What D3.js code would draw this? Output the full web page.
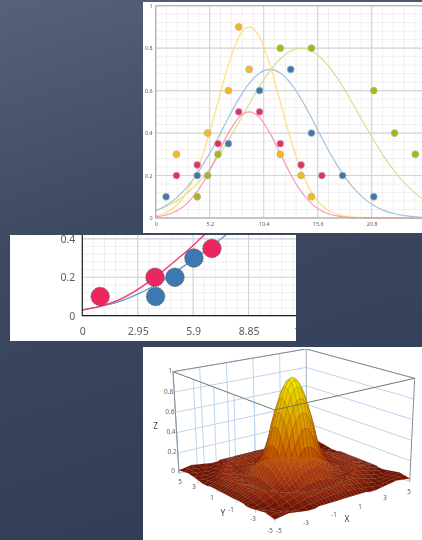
<!DOCTYPE html>
<html>
<head>
<meta charset="utf-8">
<script src="https://cdn.jsdelivr.net/npm/d3@7"></script>
<style>
html, body { margin: 0; padding: 0; overflow: hidden; }
body { width: 422px; height: 540px; }
svg { display: block; }
text { font-family: "Noto Sans", sans-serif; }
.axis path, .axis line { display: none; }
</style>
</head>
<body>
<div class="svg"></div>
<script>
'use strict';

// top chart
var xTicks1 = [0, 5.2, 10.4, 15.6, 20.8, 26];
var yTicks1 = [0, 0.2, 0.4, 0.6, 0.8, 1];
var curveX1 = [0, 1, 2, 3, 4, 5, 6, 7, 8, 9, 10, 11, 12, 13, 14, 15, 16, 17, 18, 19, 20, 21, 22, 23, 24, 25, 26, 27];
var yellowCurve = [0.01, 0.026, 0.059, 0.122, 0.224, 0.37, 0.546, 0.721, 0.851, 0.9, 0.851, 0.721, 0.546, 0.37, 0.224, 0.122, 0.059, 0.026, 0.01, 0.004, 0.001, 0, 0, 0, 0, 0, 0, 0];
var redCurve = [0.006, 0.014, 0.033, 0.068, 0.125, 0.205, 0.303, 0.4, 0.473, 0.5, 0.473, 0.4, 0.303, 0.205, 0.125, 0.068, 0.033, 0.014, 0.006, 0.002, 0.001, 0, 0, 0, 0, 0, 0, 0];
var blueCurve = [0.035, 0.059, 0.095, 0.144, 0.209, 0.288, 0.377, 0.472, 0.561, 0.634, 0.683, 0.7, 0.683, 0.634, 0.561, 0.472, 0.377, 0.288, 0.209, 0.144, 0.095, 0.059, 0.035, 0.02, 0.011, 0.006, 0.003, 0.001];
var greenCurve = [0.035, 0.054, 0.08, 0.116, 0.162, 0.22, 0.288, 0.366, 0.45, 0.537, 0.62, 0.693, 0.75, 0.787, 0.8, 0.787, 0.75, 0.693, 0.62, 0.537, 0.45, 0.366, 0.288, 0.22, 0.162, 0.116, 0.08, 0.054];
var yellowDots = [[8, 0.9], [9, 0.7], [7, 0.6], [5, 0.4], [2, 0.3], [12, 0.3], [14, 0.2], [15, 0.1]];
var redDots = [[2, 0.2], [4, 0.25], [6, 0.35], [8, 0.5], [10, 0.5], [12, 0.35], [14, 0.25], [16, 0.2]];
var blueDots = [[1, 0.1], [4, 0.2], [7, 0.35], [10, 0.6], [13, 0.7], [15, 0.4], [18, 0.2], [21, 0.1]];
var greenDots = [[4, 0.1], [5, 0.2], [6, 0.3], [12, 0.8], [15, 0.8], [21, 0.6], [23, 0.4], [25, 0.3]];

// middle chart
var xTicks2 = [0, 2.95, 5.9, 8.85, 11.8];
var yTicks2 = [0, 0.2, 0.4];
var curveX2 = [0, 1, 2, 3, 4, 5, 6, 7, 8];
var pinkCurve2 = [0.03, 0.05, 0.085, 0.14, 0.21, 0.29, 0.375, 0.47, 0.57];
var blueCurve2 = [0.03, 0.05, 0.075, 0.115, 0.165, 0.23, 0.3, 0.37, 0.45];
var redDots2 = [[0.95, 0.1], [3.87, 0.2], [6.9, 0.35]];
var blueDots2 = [[3.9, 0.1], [4.93, 0.2], [5.94, 0.3]];

// surface, read at these x and y (the picture is mirrored about both axes)
var zTicks = [0, 0.2, 0.4, 0.6, 0.8, 1];
var xyTicks = [-5, -3, -1, 1, 3, 5];
var meshSteps = [0, 0.25, 0.5, 0.75, 1, 1.25, 1.5, 1.75, 2, 2.5, 3, 3.5, 4, 4.5, 5];
var zQuadrant = [
    [1, 0.98, 0.92, 0.82, 0.69, 0.55, 0.38, 0.27, 0.2, 0.1, 0.06, 0.08, 0.09, 0.06, 0.03],
    [0.98, 0.96, 0.9, 0.8, 0.67, 0.54, 0.37, 0.26, 0.2, 0.1, 0.06, 0.08, 0.09, 0.06, 0.03],
    [0.92, 0.9, 0.84, 0.74, 0.62, 0.47, 0.34, 0.25, 0.19, 0.095, 0.06, 0.08, 0.09, 0.06, 0.03],
    [0.82, 0.8, 0.74, 0.66, 0.55, 0.4, 0.29, 0.22, 0.17, 0.09, 0.06, 0.085, 0.085, 0.06, 0.03],
    [0.69, 0.67, 0.62, 0.55, 0.43, 0.33, 0.25, 0.2, 0.15, 0.085, 0.06, 0.085, 0.08, 0.055, 0.03],
    [0.55, 0.54, 0.47, 0.4, 0.33, 0.26, 0.21, 0.17, 0.12, 0.07, 0.065, 0.09, 0.08, 0.05, 0.03],
    [0.38, 0.37, 0.34, 0.29, 0.25, 0.21, 0.17, 0.14, 0.1, 0.065, 0.07, 0.09, 0.07, 0.05, 0.03],
    [0.27, 0.26, 0.25, 0.22, 0.2, 0.17, 0.14, 0.1, 0.09, 0.06, 0.08, 0.09, 0.07, 0.04, 0.03],
    [0.2, 0.2, 0.19, 0.17, 0.15, 0.12, 0.1, 0.09, 0.07, 0.06, 0.085, 0.09, 0.06, 0.04, 0.02],
    [0.1, 0.1, 0.095, 0.09, 0.085, 0.07, 0.065, 0.06, 0.06, 0.08, 0.09, 0.07, 0.05, 0.03, 0.02],
    [0.06, 0.06, 0.06, 0.06, 0.06, 0.065, 0.07, 0.08, 0.085, 0.09, 0.07, 0.05, 0.03, 0.02, 0.03],
    [0.08, 0.08, 0.08, 0.085, 0.085, 0.09, 0.09, 0.09, 0.09, 0.07, 0.05, 0.03, 0.02, 0.03, 0.04],
    [0.09, 0.09, 0.09, 0.085, 0.08, 0.08, 0.07, 0.07, 0.06, 0.05, 0.03, 0.02, 0.03, 0.04, 0.05],
    [0.06, 0.06, 0.06, 0.06, 0.055, 0.05, 0.05, 0.04, 0.04, 0.03, 0.02, 0.03, 0.04, 0.05, 0.04],
    [0.03, 0.03, 0.03, 0.03, 0.03, 0.03, 0.03, 0.03, 0.02, 0.02, 0.03, 0.04, 0.05, 0.04, 0.03]
];

var svg = d3.select('div.svg').append('svg')
    .attr('width', 422)
    .attr('height', 540);

var defs = svg.append('defs');
var bg = defs.append('linearGradient').attr('id', 'bg')
    .attr('x1', 0).attr('y1', 0).attr('x2', 0.25).attr('y2', 1);
bg.append('stop').attr('offset', 0).attr('stop-color', '#56627a');
bg.append('stop').attr('offset', 0.45).attr('stop-color', '#3d4861');
bg.append('stop').attr('offset', 1).attr('stop-color', '#323d57');

defs.append('filter').attr('id', 'soft')
    .attr('x', 0).attr('y', 0).attr('width', 1).attr('height', 1)
    .append('feGaussianBlur').attr('stdDeviation', 0.5);

svg.append('rect').attr('width', 422).attr('height', 540).attr('fill', 'url(#bg)');

function drawChart(opt) {
    var panelId = opt.id;
    defs.append('clipPath').attr('id', panelId)
        .append('rect')
        .attr('x', opt.panel[0]).attr('y', opt.panel[1])
        .attr('width', opt.panel[2]).attr('height', opt.panel[3]);

    svg.append('rect')
        .attr('x', opt.panel[0]).attr('y', opt.panel[1])
        .attr('width', opt.panel[2]).attr('height', opt.panel[3])
        .attr('fill', '#fff');

    var g = svg.append('g')
        .attr('clip-path', 'url(#' + panelId + ')')
        .append('g')
        .attr('filter', 'url(#soft)');

    var x = d3.scaleLinear().domain(opt.xDomain).range(opt.xRange);
    var y = d3.scaleLinear().domain(opt.yDomain).range(opt.yRange);

    g.append('g').selectAll('line')
        .data(d3.range(0, opt.xDomain[1], opt.xMinor))
        .enter().append('line')
        .attr('x1', x).attr('x2', x)
        .attr('y1', opt.yRange[0]).attr('y2', opt.yRange[1])
        .attr('stroke', '#ececec').attr('stroke-width', 0.8);
    g.append('g').selectAll('line')
        .data(d3.range(0, opt.yDomain[1], opt.yMinor))
        .enter().append('line')
        .attr('y1', y).attr('y2', y)
        .attr('x1', opt.xRange[0]).attr('x2', opt.xRange[1])
        .attr('stroke', '#ececec').attr('stroke-width', 0.8);
    g.append('g').selectAll('line')
        .data(opt.xTicks)
        .enter().append('line')
        .attr('x1', x).attr('x2', x)
        .attr('y1', opt.yRange[0]).attr('y2', opt.yRange[1])
        .attr('stroke', '#d4d4d4').attr('stroke-width', 1.1);
    g.append('g').selectAll('line')
        .data(opt.yTicks)
        .enter().append('line')
        .attr('y1', y).attr('y2', y)
        .attr('x1', opt.xRange[0]).attr('x2', opt.xRange[1])
        .attr('stroke', '#d4d4d4').attr('stroke-width', 1.1);

    var line = d3.line()
        .x(function (d) { return x(d[0]); })
        .y(function (d) { return y(d[1]); })
        .curve(d3.curveMonotoneX);

    opt.curves.forEach(function (c) {
        g.append('path')
            .attr('d', line(d3.zip(opt.curveX, c.values)))
            .attr('fill', 'none')
            .attr('stroke', c.color)
            .attr('stroke-width', opt.curveWidth);
    });

    // axis frame
    g.append('path')
        .attr('d', 'M' + opt.xRange[0] + ',' + opt.yRange[1] + 'V' + opt.yRange[0] + 'H' + opt.xRange[1])
        .attr('fill', 'none')
        .attr('stroke', opt.axisColor)
        .attr('stroke-width', opt.axisWidth);
    if (opt.topLine) {
        g.append('path')
            .attr('d', 'M' + opt.xRange[0] + ',' + opt.yRange[1] + 'H' + opt.xRange[1])
            .attr('stroke', opt.axisColor)
            .attr('stroke-width', opt.axisWidth);
    }

    opt.dots.forEach(function (set) {
        g.append('g').selectAll('circle')
            .data(set.values)
            .enter().append('circle')
            .attr('cx', function (d) { return x(d[0]); })
            .attr('cy', function (d) { return y(d[1]); })
            .attr('r', opt.dotRadius)
            .attr('fill', set.color)
            .attr('stroke', opt.dotStroke)
            .attr('stroke-width', opt.dotStrokeWidth)
            .attr('stroke-dasharray', opt.dotDash);
    });

    var xAxis = d3.axisBottom(x).tickValues(opt.xTicks).tickSize(0).tickPadding(opt.xPad)
        .tickFormat(function (d) { return d; });
    var yAxis = d3.axisLeft(y).tickValues(opt.yTicks).tickSize(0).tickPadding(opt.yPad)
        .tickFormat(function (d) { return d; });

    g.append('g').attr('class', 'axis')
        .attr('transform', 'translate(0,' + opt.yRange[0] + ')')
        .call(xAxis)
        .selectAll('text').attr('font-size', opt.fontSize).attr('fill', '#5c5c5c');
    g.append('g').attr('class', 'axis')
        .attr('transform', 'translate(' + opt.xRange[0] + ',0)')
        .call(yAxis)
        .selectAll('text').attr('font-size', opt.fontSize).attr('fill', '#5c5c5c');
}

drawChart({
    id: 'panelTop',
    panel: [143, 2, 279, 231],
    xDomain: [0, 26], xRange: [155.7, 425.7],
    yDomain: [0, 1], yRange: [218, 5.7],
    xMinor: 1.04, yMinor: 0.04,
    xTicks: xTicks1, yTicks: yTicks1,
    curveX: curveX1,
    curves: [
        { values: greenCurve, color: '#d4e192' },
        { values: blueCurve, color: '#a2c3e3' },
        { values: yellowCurve, color: '#ffdd78' },
        { values: redCurve, color: '#fb98b3' }
    ],
    curveWidth: 1.2,
    dots: [
        { values: greenDots, color: '#9cbd0a' },
        { values: blueDots, color: '#3b78ad' },
        { values: yellowDots, color: '#fbbb0c' },
        { values: redDots, color: '#ec2a62' }
    ],
    dotRadius: 3.4, dotStroke: '#b0b0b0', dotStrokeWidth: 0.8, dotDash: null,
    axisColor: '#a8a8a8', axisWidth: 1.1, topLine: true,
    xPad: 4.5, yPad: 3, fontSize: 5.4
});

drawChart({
    id: 'panelMid',
    panel: [10, 235, 286, 106],
    xDomain: [0, 11.8], xRange: [82.3, 304],
    yDomain: [0, 0.42], yRange: [315.7, 235],
    xMinor: 0.59, yMinor: 0.04,
    xTicks: xTicks2, yTicks: yTicks2,
    curveX: curveX2,
    curves: [
        { values: blueCurve2, color: '#639fd6' },
        { values: pinkCurve2, color: '#f23a72' }
    ],
    curveWidth: 1.4,
    dots: [
        { values: redDots2, color: '#ee2560' },
        { values: blueDots2, color: '#3d78b2' }
    ],
    dotRadius: 9.2, dotStroke: '#444', dotStrokeWidth: 0.8, dotDash: '1.5,1',
    axisColor: '#222', axisWidth: 1.2, topLine: false,
    xPad: 12, yPad: 7, fontSize: 10.5
});

// surface panel
svg.append('rect')
    .attr('x', 143).attr('y', 347).attr('width', 279).attr('height', 193)
    .attr('fill', '#fff');

var surface = svg.append('g').attr('filter', 'url(#soft)');

// corners of the box, x = -5/5 and y = -5/5, floor and ceiling
var floorFront = [274.7, 523], floorLeft = [179, 473.3], floorRight = [409.7, 481.7], floorBack = [306.3, 441];
var topFront = [274.7, 410], topLeft = [173, 371.7], topRight = [414.7, 378.3], topBack = [306.3, 349];

var uScale = d3.scaleLinear().domain([-5, 5]).range([0, 1]);
var vScale = d3.scaleLinear().domain([-5, 5]).range([0, 1]);
var wScale = d3.scaleLinear().domain([0, 1]).range([0, 1]);

function mix(a, b, t) {
    return d3.interpolateArray(a, b)(t);
}
function project(px, py, pz) {
    var u = uScale(px), v = vScale(py), w = wScale(pz);
    var bottom = mix(mix(floorFront, floorRight, u), mix(floorLeft, floorBack, u), v);
    var top = mix(mix(topFront, topRight, u), mix(topLeft, topBack, u), v);
    return mix(bottom, top, w);
}
function seg(a, b, color, width) {
    surface.append('line')
        .attr('x1', a[0]).attr('y1', a[1])
        .attr('x2', b[0]).attr('y2', b[1])
        .attr('stroke', color).attr('stroke-width', width);
}

// walls
xyTicks.forEach(function (t) {
    seg(project(-5, t, 0), project(-5, t, 1), '#bdd4ee', 1);
    seg(project(t, 5, 0), project(t, 5, 1), '#bdd4ee', 1);
});
zTicks.forEach(function (t) {
    seg(project(-5, 5, t), project(5, 5, t), '#bdd4ee', 1);
    seg(project(5, 5, t), project(5, -5, t), '#bdd4ee', 1);
});
seg(topLeft, topBack, '#858d95', 1);
seg(topBack, topRight, '#858d95', 1);
seg(floorLeft, topLeft, '#858d95', 1);
seg(floorRight, topRight, '#858d95', 1);
seg(floorBack, topBack, '#a8b2bc', 0.8);

var surfaceColor = d3.scaleLinear()
    .domain([0, 0.05, 0.1, 0.25, 0.5, 0.75, 1])
    .range(['#5e0f04', '#7c1b07', '#a0300a', '#bf4c08', '#d58600', '#e2ba00', '#ecec00']);

var last = meshSteps.length - 1;
var indices = d3.range(-last, last + 1);
function coord(i) {
    return (i < 0 ? -1 : 1) * meshSteps[Math.abs(i)];
}
function zAt(i, j) {
    return zQuadrant[Math.abs(j)][Math.abs(i)];
}
var cells = [];
indices.slice(0, -1).forEach(function (i) {
    indices.slice(0, -1).forEach(function (j) {
        cells.push([i, j]);
    });
});
cells.sort(function (a, b) {
    return (coord(b[0]) + coord(b[1])) - (coord(a[0]) + coord(a[1]));
});

surface.append('g').selectAll('path')
    .data(cells)
    .enter().append('path')
    .attr('d', function (c) {
        var i = c[0], j = c[1];
        var pts = [[i, j], [i + 1, j], [i + 1, j + 1], [i, j + 1]].map(function (p) {
            return project(coord(p[0]), coord(p[1]), zAt(p[0], p[1]));
        });
        return d3.line()(pts) + 'Z';
    })
    .attr('fill', function (c) {
        var i = c[0], j = c[1];
        return surfaceColor(d3.mean([zAt(i, j), zAt(i + 1, j), zAt(i + 1, j + 1), zAt(i, j + 1)]));
    })
    .attr('stroke', '#4a1000')
    .attr('stroke-opacity', 0.4)
    .attr('stroke-width', 0.3);

// front edges run over the peak
seg(topLeft, topFront, '#6f776f', 1);
seg(topFront, topRight, '#6f776f', 1);

// labels
function label3d(px, py, txt, size, color) {
    surface.append('text')
        .attr('x', px).attr('y', py)
        .attr('text-anchor', 'middle')
        .attr('font-size', size)
        .attr('fill', color)
        .text(txt);
}
zTicks.forEach(function (t) {
    var p = project(-5, 5, t);
    surface.append('text')
        .attr('x', p[0] - (t === 0 ? 4 : 1)).attr('y', p[1] + (t === 0 ? 0 : 1.5))
        .attr('text-anchor', 'end')
        .attr('font-size', 6.5)
        .attr('fill', '#666')
        .text(t);
});
var yLabelX = [270, 253, 231, 212, 194, 180];
var yLabelY = [533, 521, 512, 500, 489, 484];
var xLabelX = [279, 306, 334, 360, 385, 409];
var xLabelY = [533, 525, 517, 509, 500, 494];
xyTicks.forEach(function (t, i) {
    label3d(yLabelX[i], yLabelY[i], t, 6.2, '#555');
    label3d(xLabelX[i], xLabelY[i], t, 6.2, '#555');
});
label3d(155.5, 428.5, 'Z', 8, '#444');
label3d(223, 516, 'Y', 8.5, '#444');
label3d(347, 522, 'X', 8.5, '#444');
</script>
</body>
</html>
